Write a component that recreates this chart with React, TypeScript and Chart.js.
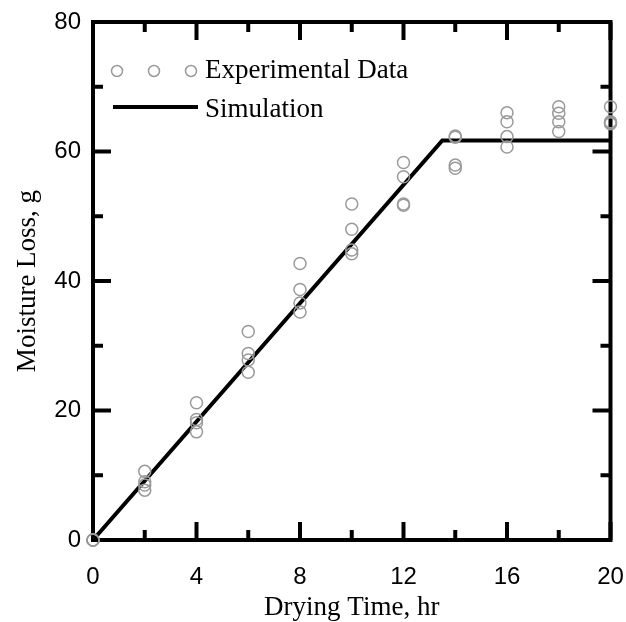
import React, { useEffect, useRef } from 'react';
import { Chart, registerables } from 'chart.js';

Chart.register(...registerables);

// Drying time (hr) of the experimental measurements
const times = [0, 2, 4, 6, 8, 10, 12, 14, 16, 18, 20];
// Four replicate measurements of moisture loss (g)
const rep1 = [0, 10.6, 21.2, 32.2, 42.7, 51.9, 58.3, 62.4, 66.0, 66.9, 66.9];
const rep2 = [0, 9.0, 18.6, 28.8, 38.7, 48.0, 56.1, 62.2, 64.6, 65.9, 64.6];
const rep3 = [0, 8.5, 18.1, 27.8, 36.6, 44.8, 51.9, 57.9, 62.3, 64.6, 64.4];
const rep4 = [0, 7.7, 16.7, 25.9, 35.2, 44.2, 51.7, 57.4, 60.7, 63.1, 64.3];

// Simulation line
const simTimes = [0, 13.5, 20];
const simMoisture = [0, 61.7, 61.7];

// Axis ticks
const xMajorTicks = [0, 4, 8, 12, 16, 20];
const xMinorTicks = [2, 6, 10, 14, 18];
const yMajorTicks = [0, 20, 40, 60, 80];
const yMinorTicks = [10, 30, 50, 70];

const legendLabels = ['Experimental Data', 'Simulation'];
const xTitle = 'Drying Time, hr';
const yTitle = 'Moisture Loss, g';

const POINT_COLOR = '#9a9a9a';

const framePlugin = {
  id: 'frame',
  beforeDatasetsDraw(chart: any) {
    const { ctx, chartArea } = chart;
    const { left, right, top, bottom } = chartArea;
    const xs = chart.scales.x;
    const ys = chart.scales.y;
    ctx.save();
    ctx.strokeStyle = '#000';
    ctx.lineWidth = 4;
    ctx.lineCap = 'butt';
    ctx.strokeRect(left, top, right - left, bottom - top);
    const major = 18;
    const minor = 10;
    const tick = (x1: number, y1: number, x2: number, y2: number) => {
      ctx.beginPath();
      ctx.moveTo(x1, y1);
      ctx.lineTo(x2, y2);
      ctx.stroke();
    };
    xMajorTicks.forEach((v) => {
      const px = xs.getPixelForValue(v);
      tick(px, bottom, px, bottom - major);
      tick(px, top, px, top + major);
    });
    xMinorTicks.forEach((v) => {
      const px = xs.getPixelForValue(v);
      tick(px, bottom, px, bottom - minor);
      tick(px, top, px, top + minor);
    });
    yMajorTicks.forEach((v) => {
      const py = ys.getPixelForValue(v);
      tick(left, py, left + major, py);
      tick(right, py, right - major, py);
    });
    yMinorTicks.forEach((v) => {
      const py = ys.getPixelForValue(v);
      tick(left, py, left + minor, py);
      tick(right, py, right - minor, py);
    });
    ctx.restore();
  },
  afterDraw(chart: any) {
    const { ctx } = chart;
    ctx.save();
    // Experimental legend row
    ctx.strokeStyle = POINT_COLOR;
    ctx.lineWidth = 1.5;
    [117, 154, 191].forEach((cx) => {
      ctx.beginPath();
      ctx.arc(cx, 71, 5.5, 0, Math.PI * 2);
      ctx.stroke();
    });
    // Simulation legend row
    ctx.strokeStyle = '#000';
    ctx.lineWidth = 4;
    ctx.beginPath();
    ctx.moveTo(113, 107);
    ctx.lineTo(198, 107);
    ctx.stroke();
    ctx.fillStyle = '#000';
    ctx.font = '27px "Liberation Serif", "Times New Roman", serif';
    ctx.textAlign = 'left';
    ctx.textBaseline = 'alphabetic';
    ctx.fillText(legendLabels[0], 205, 78);
    ctx.fillText(legendLabels[1], 205, 117);
    ctx.restore();
  },
};

export default function App() {
  const canvasRef = useRef<HTMLCanvasElement | null>(null);

  useEffect(() => {
    const canvas = canvasRef.current;
    if (!canvas) return;
    const pointStyle = {
      showLine: false,
      pointRadius: 6,
      pointHoverRadius: 6,
      pointBorderWidth: 1.5,
      pointBorderColor: POINT_COLOR,
      pointBackgroundColor: 'rgba(0,0,0,0)',
      borderColor: POINT_COLOR,
      backgroundColor: 'rgba(0,0,0,0)',
      clip: false as any,
      order: 0,
    };
    const reps = [rep1, rep2, rep3, rep4];
    const scatterSets = reps.map((rep, i) => ({
      type: 'scatter' as const,
      label: i === 0 ? legendLabels[0] : 'rep' + (i + 1),
      data: times.map((t, j) => ({ x: t, y: rep[j] })),
      ...pointStyle,
    }));
    const chart = new Chart(canvas, {
      type: 'scatter',
      data: {
        datasets: [
          ...scatterSets,
          {
            type: 'line',
            label: legendLabels[1],
            data: simTimes.map((t, j) => ({ x: t, y: simMoisture[j] })),
            borderColor: '#000',
            borderWidth: 4,
            pointRadius: 0,
            fill: false,
            tension: 0,
            clip: false as any,
            order: 1,
          } as any,
        ],
      },
      options: {
        animation: false,
        responsive: false,
        maintainAspectRatio: false,
        layout: { padding: { top: 22, right: 15.5, left: 0, bottom: 0 } },
        plugins: {
          legend: { display: false },
          tooltip: { enabled: false },
        },
        scales: {
          x: {
            type: 'linear',
            min: 0,
            max: 20,
            afterFit: (s: any) => {
              s.height = 82;
              s.paddingLeft = 0;
              s.paddingRight = 0;
              s.paddingTop = 0;
              s.paddingBottom = 0;
            },
            ticks: {
              stepSize: 4,
              padding: 23,
              color: '#000',
              font: { family: '"Liberation Sans", Arial, sans-serif', size: 24 },
            },
            grid: { display: false, drawTicks: false },
            border: { display: false },
            title: {
              display: true,
              text: xTitle,
              color: '#000',
              font: { family: '"Liberation Serif", "Times New Roman", serif', size: 27 },
              padding: { top: 0, bottom: -2 },
            },
          },
          y: {
            type: 'linear',
            min: 0,
            max: 80,
            afterFit: (s: any) => {
              s.width = 93;
              s.paddingLeft = 0;
              s.paddingRight = 0;
              s.paddingTop = 0;
              s.paddingBottom = 0;
            },
            ticks: {
              stepSize: 20,
              padding: 12,
              color: '#000',
              font: { family: '"Liberation Sans", Arial, sans-serif', size: 24 },
            },
            grid: { display: false, drawTicks: false },
            border: { display: false },
            title: {
              display: true,
              text: yTitle,
              color: '#000',
              font: { family: '"Liberation Serif", "Times New Roman", serif', size: 27 },
              padding: { top: 12, bottom: 0 },
            },
          },
        },
      },
      plugins: [framePlugin],
    });
    return () => chart.destroy();
  }, []);

  return (
    <div style={{ position: 'fixed', left: 0, top: 0, width: 626, height: 622, background: '#fff' }}>
      <canvas ref={canvasRef} width={626} height={622} style={{ width: 626, height: 622, display: 'block' }} />
    </div>
  );
}
